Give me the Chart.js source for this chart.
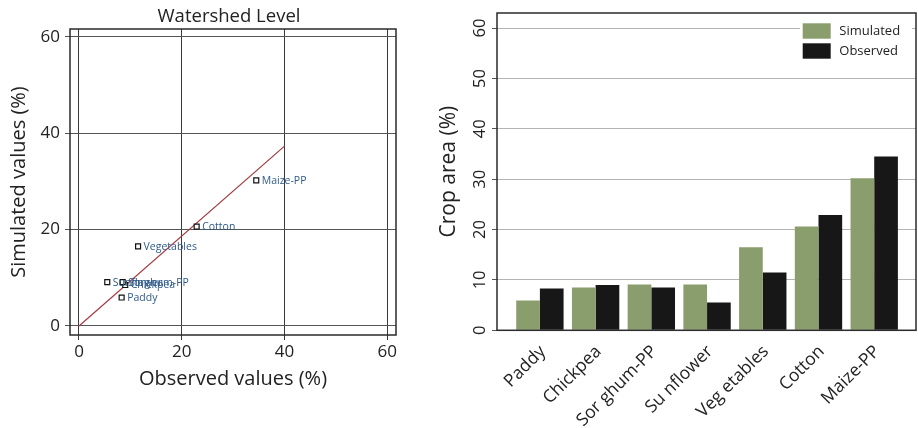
<!DOCTYPE html>
<html>
<head>
<meta charset="utf-8">
<title>Watershed Level - crop area</title>
<script src="https://cdn.jsdelivr.net/npm/chart.js@4/dist/chart.umd.min.js"></script>
<style>
  html, body { margin: 0; padding: 0; background: #fff; }
  #wrap { position: relative; width: 918px; height: 428px; }
  #scatterChart { position: absolute; left: 0; top: 0; }
  #barChart { position: absolute; left: 420px; top: 0; }
</style>
</head>
<body>
<div id="wrap">
  <canvas id="scatterChart" width="420" height="428"></canvas>
  <canvas id="barChart" width="498" height="428"></canvas>
</div>
<script>
// crop names (scatter labels) and the bar axis labels as printed
const cropNames = ['Paddy', 'Chickpea', 'Sorghum-PP', 'Sunflower', 'Vegetables', 'Cotton', 'Maize-PP'];
const barLabels = ['Paddy', 'Chickpea', 'Sor ghum-PP', 'Su nflower', 'Veg etables', 'Cotton', 'Maize-PP'];

// crop area (%)
const simulated = [5.9, 8.5, 9.1, 9.1, 16.5, 20.6, 30.2];
const observed = [8.3, 9.0, 8.5, 5.5, 11.5, 22.9, 34.5];

// fitted line on the scatter
const fitX = [0, 40];
const fitY = [0, 37.3];

const scatterTicks = [0, 20, 40, 60];
const barTicks = [0, 10, 20, 30, 40, 50, 60];

Chart.defaults.font.family = '"Open Sans", sans-serif';
Chart.defaults.color = '#222';

// frame round the plot area
const framePlugin = {
  id: 'frame',
  afterDraw(chart) {
    const { ctx, chartArea: a } = chart;
    ctx.save();
    ctx.strokeStyle = '#2a2a2a';
    ctx.lineWidth = 1.5;
    ctx.strokeRect(a.left, a.top, a.right - a.left, a.bottom - a.top);
    ctx.restore();
  }
};

const scatterExtras = {
  id: 'scatterExtras',
  afterDatasetsDraw(chart) {
    const { ctx, chartArea: a } = chart;
    const meta = chart.getDatasetMeta(1);
    ctx.save();
    ctx.font = '10.5px "Open Sans", sans-serif';
    ctx.fillStyle = '#2f5a8a';
    ctx.textBaseline = 'middle';
    meta.data.forEach((pt, i) => {
      ctx.fillText(cropNames[i], pt.x + 5.5, pt.y + 0.5);
    });
    ctx.fillStyle = '#222';
    ctx.font = '18.5px "Open Sans", sans-serif';
    ctx.textAlign = 'center';
    ctx.fillText('Watershed Level', (a.left + a.right) / 2 - 4, 17);
    ctx.restore();
  }
};

const barLegend = {
  id: 'barLegend',
  afterDraw(chart) {
    const { ctx, chartArea: a } = chart;
    ctx.save();
    ctx.fillStyle = '#fff';
    ctx.fillRect(a.right - 116, a.top + 6, 112, 50);
    ctx.font = '13px "Open Sans", sans-serif';
    ctx.textBaseline = 'middle';
    chart.data.datasets.forEach((ds, i) => {
      const y = a.top + 10.3 + i * 20;
      ctx.fillStyle = ds.backgroundColor;
      ctx.fillRect(a.right - 113.3, y, 28, 15.4);
      ctx.fillStyle = '#222';
      ctx.fillText(ds.label, a.right - 76.7, y + 8);
    });
    ctx.restore();
  }
};

new Chart(document.getElementById('scatterChart'), {
  type: 'scatter',
  data: {
    datasets: [
      {
        label: 'Fit',
        data: fitX.map((x, i) => ({ x: x, y: fitY[i] })),
        showLine: true,
        borderColor: '#a3393f',
        borderWidth: 1.2,
        pointRadius: 0,
        order: 2
      },
      {
        label: 'Crops',
        data: observed.map((x, i) => ({ x: x, y: simulated[i] })),
        pointStyle: 'rect',
        pointRadius: 3.5,
        borderColor: '#111',
        borderWidth: 1.2,
        backgroundColor: '#fff',
        order: 1
      }
    ]
  },
  options: {
    responsive: false,
    animation: false,
    layout: { padding: { top: 29, right: 24, left: 0, bottom: 0 } },
    plugins: { legend: { display: false }, tooltip: { enabled: false } },
    scales: {
      x: {
        type: 'linear',
        min: -1.75,
        max: 61.7,
        afterBuildTicks: s => { s.ticks = scatterTicks.map(v => ({ value: v })); },
        afterFit: s => { s.height = 93; },
        grid: { color: '#3a3a3a', lineWidth: 1, tickLength: 5, tickColor: '#3a3a3a' },
        border: { display: false },
        ticks: { font: { size: 17 }, padding: 2, maxRotation: 0 },
        title: { display: true, text: 'Observed values (%)', font: { size: 20 }, padding: { top: 0, bottom: 37 } }
      },
      y: {
        type: 'linear',
        min: -1.87,
        max: 61.6,
        afterBuildTicks: s => { s.ticks = scatterTicks.map(v => ({ value: v })); },
        afterFit: s => { s.width = 70; },
        grid: { color: '#555', lineWidth: 1, tickLength: 5, tickColor: '#555' },
        border: { display: false },
        ticks: { font: { size: 17 }, padding: 5 },
        title: { display: true, text: 'Simulated values (%)', font: { size: 20 }, padding: { top: 7, bottom: 0 } }
      }
    }
  },
  plugins: [framePlugin, scatterExtras]
});

new Chart(document.getElementById('barChart'), {
  type: 'bar',
  data: {
    datasets: [
      { label: 'Simulated', data: simulated.map((v, i) => ({ x: i, y: v })), backgroundColor: '#8a9d6c' },
      { label: 'Observed', data: observed.map((v, i) => ({ x: i, y: v })), backgroundColor: '#171717' }
    ]
  },
  options: {
    responsive: false,
    animation: false,
    datasets: { bar: { categoryPercentage: 0.85, barPercentage: 1 } },
    layout: { padding: { top: 13, right: 2, left: 0, bottom: 0 } },
    plugins: { legend: { display: false }, tooltip: { enabled: false } },
    scales: {
      x: {
        type: 'linear',
        min: -0.77,
        max: 6.75,
        offset: false,
        afterBuildTicks: s => { s.ticks = barLabels.map((_, i) => ({ value: i })); },
        afterFit: s => { s.height = 97.7; },
        grid: { display: false, offset: false },
        border: { display: false },
        ticks: { callback: v => barLabels[v], minRotation: 45, maxRotation: 45, autoSkip: false, font: { size: 17.5 }, padding: 3, labelOffset: 3 }
      },
      y: {
        min: 0,
        max: 63,
        afterBuildTicks: s => { s.ticks = barTicks.map(v => ({ value: v })); },
        afterFit: s => { s.width = 77; },
        grid: { color: '#b4b4b4', lineWidth: 1, tickLength: 5, tickColor: '#555' },
        border: { display: false },
        ticks: { minRotation: 90, maxRotation: 90, crossAlign: 'center', font: { size: 16.5 }, padding: 2 },
        title: { display: true, text: 'Crop area (%)', font: { size: 21 }, padding: { top: 16, bottom: 0 } }
      }
    }
  },
  plugins: [framePlugin, barLegend]
});
</script>
</body>
</html>
